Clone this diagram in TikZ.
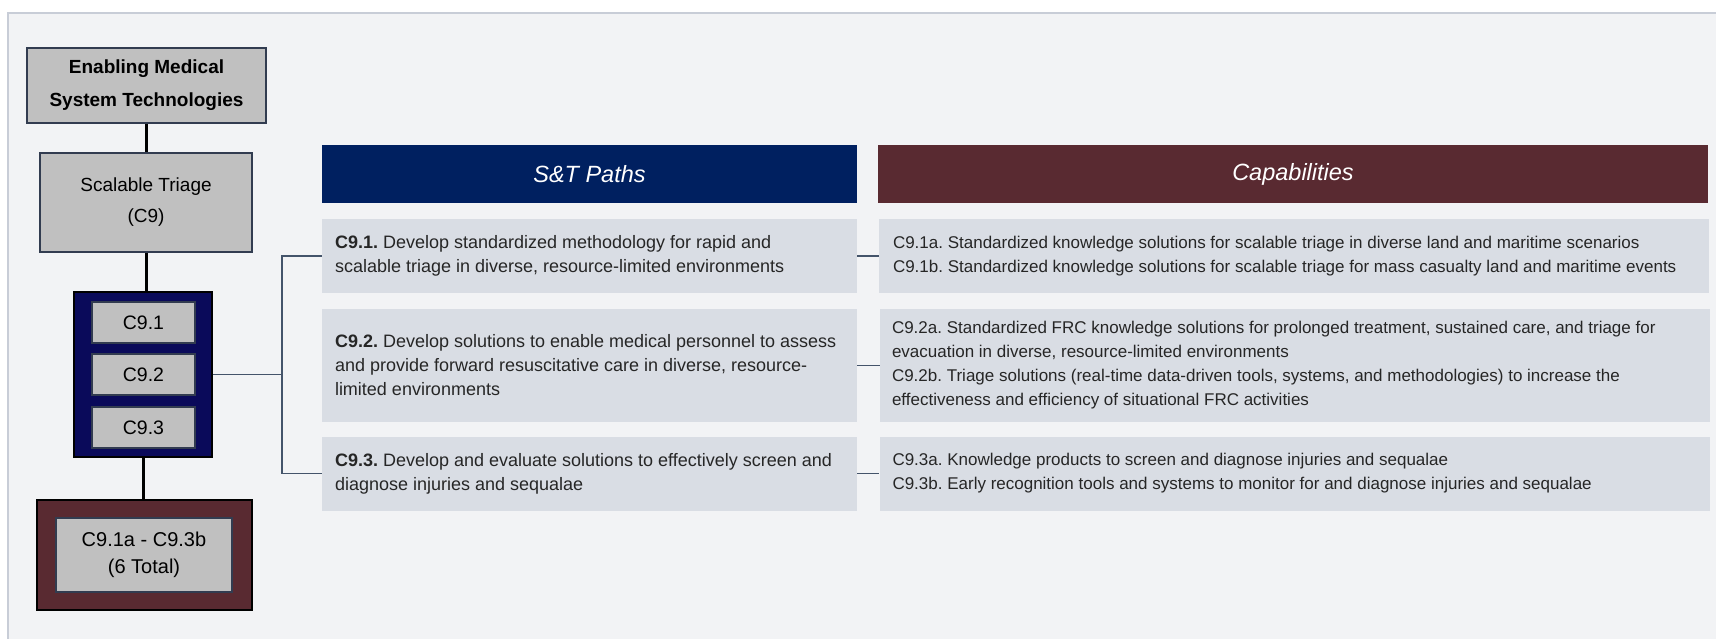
\documentclass[tikz,border=0pt]{standalone}
\usepackage{fontspec}
\setmainfont{Liberation Sans}
\frenchspacing
\definecolor{panel}{RGB}{242,243,245}
\definecolor{panelline}{RGB}{200,205,215}
\definecolor{boxgrey}{RGB}{192,192,192}
\definecolor{boxline}{RGB}{50,60,80}
\definecolor{navybox}{RGB}{10,10,90}
\definecolor{navyhead}{RGB}{0,32,96}
\definecolor{maroon}{RGB}{89,42,49}
\definecolor{lightbox}{RGB}{217,221,228}
\definecolor{connline}{RGB}{68,84,106}
\tikzset{
  greybox/.style={draw=boxline, line width=1.8pt, fill=boxgrey, inner sep=0pt, align=center, text=black},
  holder/.style={draw=black, line width=2pt, inner sep=0pt},
  vline/.style={draw=black, line width=3pt},
  conn/.style={draw=connline, line width=1.6pt},
  header/.style={inner sep=0pt, text=white, font=\fontsize{23.5}{28}\selectfont\itshape},
  panelbox/.style={fill=lightbox, draw=none, inner sep=0pt},
  sttext/.style={inner sep=0pt, align=left, anchor=west, text=black!85, font=\fontsize{18}{24}\selectfont\frenchspacing},
  captext/.style={inner sep=0pt, align=left, anchor=west, text=black!85, font=\fontsize{17}{24}\selectfont\frenchspacing}
}
\begin{document}
\begin{tikzpicture}[x=1pt,y=-1pt]
\useasboundingbox (0,0) rectangle (1716,639);
\fill[white] (0,0) rectangle (1716,639);
\fill[panel] (8,13) rectangle (1716,639);
\draw[panelline, line width=1.5pt] (8,639) -- (8,13) -- (1716,13);

% left column
\node[greybox, minimum width=239pt, minimum height=75pt, font=\fontsize{19}{33}\selectfont\bfseries] (ems) at (146.5,85.5) {Enabling Medical\\System Technologies};
\node[greybox, minimum width=212pt, minimum height=99pt, font=\fontsize{19}{31}\selectfont] (st) at (146,202.5) {Scalable Triage\\(C9)};
\node[holder, fill=navybox, minimum width=138pt, minimum height=165pt] (paths) at (143,374.5) {};
\node[greybox, minimum width=103pt, minimum height=41pt, font=\fontsize{19.5}{24}\selectfont] (p1) at (143.5,322.5) {C9.1};
\node[greybox, minimum width=103pt, minimum height=41pt, font=\fontsize{19.5}{24}\selectfont] (p2) at (143.5,374.5) {C9.2};
\node[greybox, minimum width=103pt, minimum height=41pt, font=\fontsize{19.5}{24}\selectfont] (p3) at (143.5,427.5) {C9.3};
\node[holder, fill=maroon, minimum width=215pt, minimum height=110pt] (caps) at (144.5,555) {};
\node[greybox, minimum width=176pt, minimum height=74pt, font=\fontsize{20}{27}\selectfont] (capsin) at (144,555) {C9.1a - C9.3b\\(6 Total)};

\draw[vline] (ems.south) -- (ems.south |- st.north);
\draw[vline] (st.south) -- (st.south |- paths.north);
\draw[vline] (paths.south) -- (paths.south |- caps.north);

% headers
\node[header, fill=navyhead, minimum width=535pt, minimum height=58pt] (sh) at (589.5,174.5) {S\&T Paths};
\node[header, fill=maroon, minimum width=830pt, minimum height=58pt] (ch) at (1293,174.5) {Capabilities};

% S&T boxes
\node[panelbox, minimum width=535pt, minimum height=74pt] (s1) at (589.5,256) {};
\node[panelbox, minimum width=535pt, minimum height=113pt] (s2) at (589.5,365.5) {};
\node[panelbox, minimum width=535pt, minimum height=74pt] (s3) at (589.5,473.5) {};
\node[sttext] (s1t) at ([xshift=13pt]s1.west) {\textbf{C9.1.} Develop standardized methodology for rapid and\\scalable triage in diverse, resource-limited environments};
\node[sttext] (s2t) at ([xshift=13pt]s2.west) {\textbf{C9.2.} Develop solutions to enable medical personnel to assess\\and provide forward resuscitative care in diverse, resource-\\limited environments};
\node[sttext] (s3t) at ([xshift=13pt]s3.west) {\textbf{C9.3.} Develop and evaluate solutions to effectively screen and\\diagnose injuries and sequalae};

% Capability boxes
\node[panelbox, minimum width=830pt, minimum height=74pt] (c1) at (1294,256) {};
\node[panelbox, minimum width=830pt, minimum height=113pt] (c2) at (1295,365.5) {};
\node[panelbox, minimum width=830pt, minimum height=74pt] (c3) at (1294.5,473.5) {};
\node[captext] (c1t) at ([xshift=14pt]c1.west) {C9.1a. Standardized knowledge solutions for scalable triage in diverse land and maritime scenarios\\C9.1b. Standardized knowledge solutions for scalable triage for mass casualty land and maritime events};
\node[captext] (c2t) at ([xshift=12pt]c2.west) {C9.2a. Standardized FRC knowledge solutions for prolonged treatment, sustained care, and triage for\\evacuation in diverse, resource-limited environments\\C9.2b. Triage solutions (real-time data-driven tools, systems, and methodologies) to increase the\\effectiveness and efficiency of situational FRC activities};
\node[captext] (c3t) at ([xshift=13pt]c3.west) {C9.3a. Knowledge products to screen and diagnose injuries and sequalae\\C9.3b. Early recognition tools and systems to monitor for and diagnose injuries and sequalae};

% connectors
\coordinate (bx) at (282,0);
\draw[conn] (paths.east) -- (bx |- paths.east);
\draw[conn] (s1.west) -- (bx |- s1.west) -- (bx |- s3.west) -- (s3.west);
\draw[conn] (s1.east) -- (c1.west);
\draw[conn] (s2.east) -- (c2.west);
\draw[conn] (s3.east) -- (c3.west);
\end{tikzpicture}
\end{document}
